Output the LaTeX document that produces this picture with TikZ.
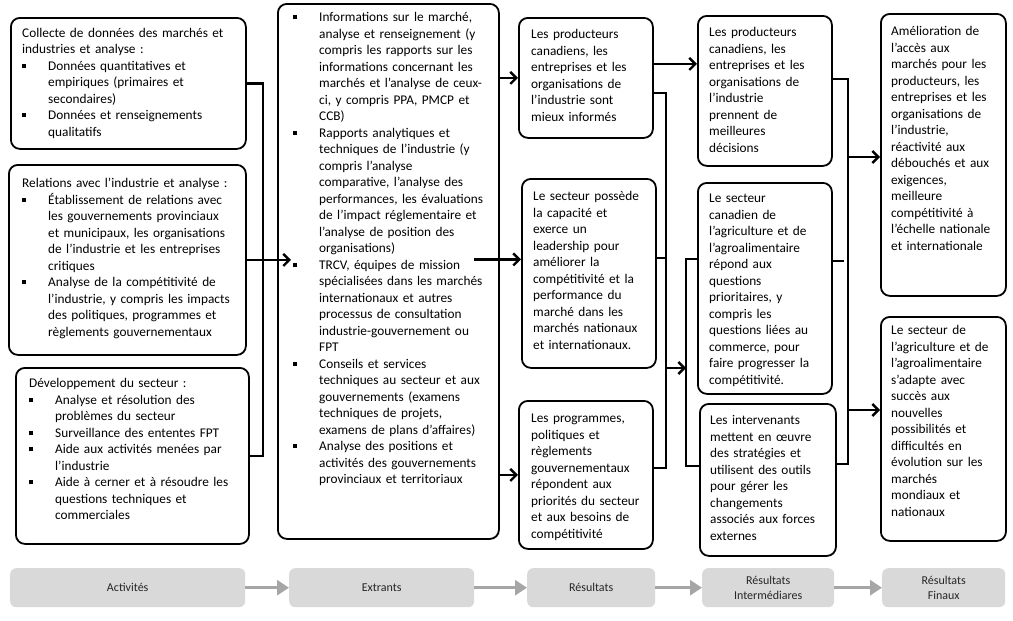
\documentclass[tikz,border=0pt]{standalone}
\usepackage{fontspec}
\setmainfont{Carlito}
\usetikzlibrary{arrows.meta,calc}
\definecolor{gfill}{HTML}{D9D9D9}
\definecolor{garrow}{HTML}{A6A6A6}
\definecolor{gtext}{HTML}{262626}
\newcommand{\mainfs}{\fontsize{13.3}{16.5}\selectfont}
\newcommand{\smallfs}{\fontsize{12}{15}\selectfont}
\newcommand{\bitem}[1][26pt]{\par\hangindent=#1\hangafter=1\noindent\makebox[#1][l]{\rule[2.6pt]{4pt}{4pt}}\strut}
\newcommand{\nl}{\newline}
\tikzset{
  box/.style={draw, line width=1.8pt, rounded corners=9pt, inner sep=0pt, anchor=north west},
  txt/.style={inner sep=0pt, anchor=north west, font=\mainfs,
    execute at begin node={\raggedright}},
  gbox/.style={fill=gfill, rounded corners=6pt, inner sep=0pt, anchor=north west, align=center, font=\smallfs, text=gtext},
  conn/.style={line width=2.4pt},
  arr/.style={conn, -{Straight Barb[length=6pt,width=12pt]}},
  garr/.style={draw=garrow, line width=3.5pt, -{Triangle[length=12pt,width=15pt]}}
}
\begin{document}
\begin{tikzpicture}[x=1pt,y=-1pt]
\useasboundingbox (0,0) rectangle (1013,621);

% ---------- boxes ----------
\node[box, minimum width=235pt, minimum height=131pt] (A1) at (10,17) {};
\node[box, minimum width=237pt, minimum height=190pt] (A2) at (8,164) {};
\node[box, minimum width=233pt, minimum height=176pt] (A3) at (15,367) {};
\node[box, minimum width=221pt, minimum height=535pt] (B) at (277,3) {};
\node[box, minimum width=134pt, minimum height=120pt] (C1) at (518,17) {};
\node[box, minimum width=134pt, minimum height=189pt] (C2) at (521,178) {};
\node[box, minimum width=134pt, minimum height=148pt] (C3) at (518,400) {};
\node[box, minimum width=134pt, minimum height=150pt] (D1) at (697,15) {};
\node[box, minimum width=134pt, minimum height=211pt] (D2) at (697,182) {};
\node[box, minimum width=136pt, minimum height=152pt] (D3) at (699,403) {};
\node[box, minimum width=125pt, minimum height=282pt] (E1) at (880,13) {};
\node[box, minimum width=125pt, minimum height=224pt] (E2) at (880,316) {};

% ---------- texts ----------
\node[txt, text width=228pt] (A1t) at ([shift={(12,8.5)}]A1.north west) {\strut Collecte de données des marchés et\nl industries et analyse :
\bitem Données quantitatives et\nl empiriques (primaires et\nl secondaires)
\bitem Données et renseignements\nl qualitatifs\par};

\node[txt, text width=228pt] (A2t) at ([shift={(14,12)}]A2.north west) {\strut Relations avec l’industrie et analyse :
\bitem Établissement de relations avec\nl les gouvernements provinciaux\nl et municipaux, les organisations\nl de l’industrie et les entreprises\nl critiques
\bitem Analyse de la compétitivité de\nl l’industrie, y compris les impacts\nl des politiques, programmes et\nl règlements gouvernementaux\par};

\node[txt, text width=225pt] (A3t) at ([shift={(14,9)}]A3.north west) {\strut Développement du secteur :
\bitem Analyse et résolution des\nl problèmes du secteur
\bitem Surveillance des ententes FPT
\bitem Aide aux activités menées par\nl l’industrie
\bitem Aide à cerner et à résoudre les\nl questions techniques et\nl commerciales\par};

\node[txt, text width=215pt] (Bt) at ([shift={(16,2)}]B.north west) {%
\bitem Informations sur le marché,\nl analyse et renseignement (y\nl compris les rapports sur les\nl informations concernant les\nl marchés et l’analyse de ceux-\nl ci, y compris PPA, PMCP et\nl CCB)
\bitem Rapports analytiques et\nl techniques de l’industrie (y\nl compris l’analyse\nl comparative, l’analyse des\nl performances, les évaluations\nl de l’impact réglementaire et\nl l’analyse de position des\nl organisations)
\bitem TRCV, équipes de mission\nl spécialisées dans les marchés\nl internationaux et autres\nl processus de consultation\nl industrie-gouvernement ou\nl FPT
\bitem Conseils et services\nl techniques au secteur et aux\nl gouvernements (examens\nl techniques de projets,\nl examens de plans d’affaires)
\bitem Analyse des positions et\nl activités des gouvernements\nl provinciaux et territoriaux\par};

\node[txt, text width=130pt] (C1t) at ([shift={(13,10)}]C1.north west) {\strut Les producteurs\nl canadiens, les\nl entreprises et les\nl organisations de\nl l’industrie sont\nl mieux informés};
\node[txt, text width=130pt] (C2t) at ([shift={(12,11)}]C2.north west) {\strut Le secteur possède\nl la capacité et\nl exerce un\nl leadership pour\nl améliorer la\nl compétitivité et la\nl performance du\nl marché dans les\nl marchés nationaux\nl et internationaux.};
\node[txt, text width=130pt] (C3t) at ([shift={(13,11)}]C3.north west) {\strut Les programmes,\nl politiques et\nl règlements\nl gouvernementaux\nl répondent aux\nl priorités du secteur\nl et aux besoins de\nl compétitivité};

\node[txt, text width=130pt] (D1t) at ([shift={(12,10)}]D1.north west) {\strut Les producteurs\nl canadiens, les\nl entreprises et les\nl organisations de\nl l’industrie\nl prennent de\nl meilleures\nl décisions};
\node[txt, text width=130pt] (D2t) at ([shift={(12,9)}]D2.north west) {\strut Le secteur\nl canadien de\nl l’agriculture et de\nl l’agroalimentaire\nl répond aux\nl questions\nl prioritaires, y\nl compris les\nl questions liées au\nl commerce, pour\nl faire progresser la\nl compétitivité.};
\node[txt, text width=130pt] (D3t) at ([shift={(11,10)}]D3.north west) {\strut Les intervenants\nl mettent en œuvre\nl des stratégies et\nl utilisent des outils\nl pour gérer les\nl changements\nl associés aux forces\nl externes};

\node[txt, text width=120pt] (E1t) at ([shift={(11,11)}]E1.north west) {\strut Amélioration de\nl l’accès aux\nl marchés pour les\nl producteurs, les\nl entreprises et les\nl organisations de\nl l’industrie,\nl réactivité aux\nl débouchés et aux\nl exigences,\nl meilleure\nl compétitivité à\nl l’échelle nationale\nl et internationale};
\node[txt, text width=120pt] (E2t) at ([shift={(11,7)}]E2.north west) {\strut Le secteur de\nl l’agriculture et de\nl l’agroalimentaire\nl s’adapte avec\nl succès aux\nl nouvelles\nl possibilités et\nl difficultés en\nl évolution sur les\nl marchés\nl mondiaux et\nl nationaux};

% ---------- bottom labels ----------
\node[gbox, minimum width=235pt, minimum height=39pt] (G1) at (10,568) {Activités};
\node[gbox, minimum width=185pt, minimum height=39pt] (G2) at (289,568) {Extrants};
\node[gbox, minimum width=128pt, minimum height=39pt] (G3) at (527,568) {Résultats};
\node[gbox, minimum width=132pt, minimum height=39pt] (G4) at (702,568) {Résultats\\ Intermédiares};
\node[gbox, minimum width=123pt, minimum height=39pt] (G5) at (882,568) {Résultats\\ Finaux};
\draw[garr] (G1.east) -- (G2.west);
\draw[garr] (G2.east) -- (G3.west);
\draw[garr] (G3.east) -- (G4.west);
\draw[garr] (G4.east) -- (G5.west);

% ---------- A -> B ----------
\coordinate (jA) at (263,259);
\draw[conn] (A1.east) -| (jA) |- (A3.east);
\coordinate (a2end) at ([xshift=14pt]A2.east -| B.west);
\draw[arr] (A2.east) -- (a2end);

% ---------- B -> C ----------
\draw[arr] (B.east |- C1.west) -- (C1.west);
\coordinate (c2in) at ([yshift=14pt]C2.west);
\coordinate (bsrc) at ([xshift=-26pt]B.east);
\draw[arr] (bsrc |- c2in) -- (c2in);
\draw[arr] (B.east |- C3.west) -- (C3.west);

% ---------- C -> D ----------
\coordinate (c1out) at ([yshift=14pt]C1.east);
\draw[arr] (c1out) -- (c1out -| D1.west);
\coordinate (jC) at (666,368);
\coordinate (jD) at (686,368);
\coordinate (c2s) at ([yshift=15.5pt]C2.east);
\draw[conn] ([yshift=-15pt]C1.east) -| (jC) |- ([yshift=7pt]C3.east);
\draw[conn] (c2s) -- (c2s -| jC);
\draw[arr] (jC) -- (jD);
\draw[conn] ([yshift=29.5pt]D2.west) -| (jD) |- ([yshift=14pt]D3.west);

% ---------- D -> E ----------
\coordinate (jE) at (848,157);
\coordinate (jE2) at (848,410);
\coordinate (d2s) at ([yshift=27.5pt]D2.east);
\draw[conn] ([yshift=12pt]D1.east) -| (jE) |- ([yshift=16pt]D3.east);
\draw[conn] (d2s) -- ([xshift=-4pt]d2s -| jE);
\draw[arr] (jE) -- (jE -| E1.west);
\draw[arr] (jE2) -- (jE2 -| E2.west);
\end{tikzpicture}
\end{document}
